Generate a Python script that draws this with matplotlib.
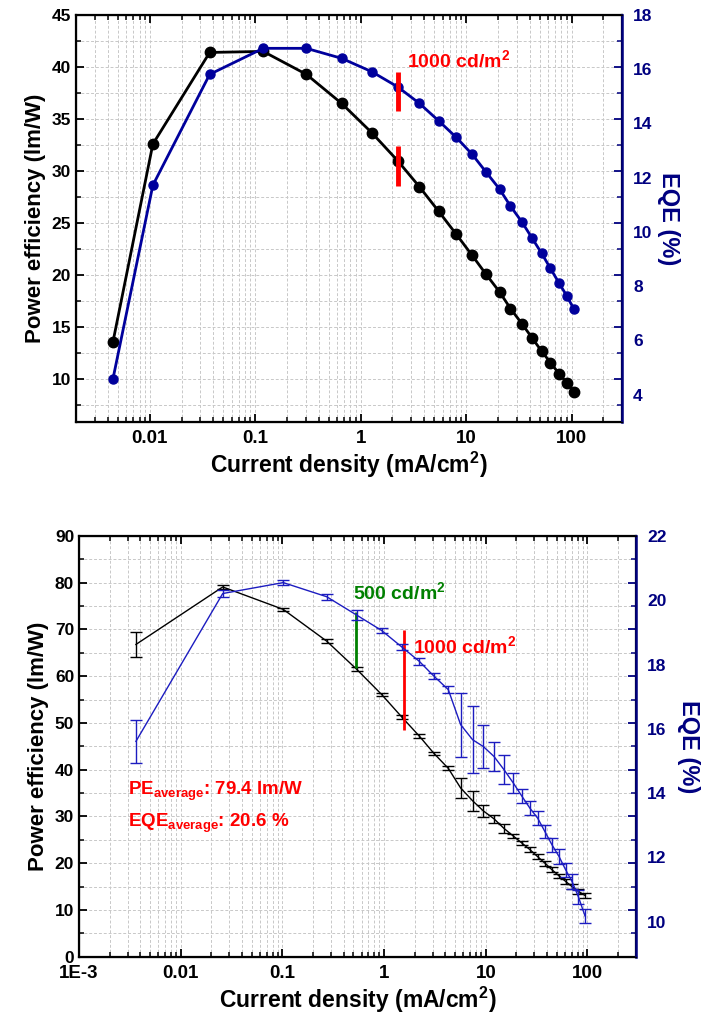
import matplotlib
matplotlib.use("Agg")
import matplotlib.pyplot as plt
from matplotlib.ticker import LogLocator, FixedLocator, MultipleLocator, FuncFormatter, NullFormatter

plt.rcParams['font.family'] = ['Liberation Sans', 'DejaVu Sans']
plt.rcParams['font.weight'] = 'bold'
plt.rcParams['mathtext.fontset'] = 'custom'
plt.rcParams['mathtext.rm'] = 'Liberation Sans:bold'
plt.rcParams['mathtext.bf'] = 'Liberation Sans:bold'

NAVY = '#000080'
BLUE_TOP = '#00009c'
BLUE_BOT = '#1c1cc0'

# ---- top panel data (single device) ----
j_top = [0.00448, 0.0107, 0.037, 0.119, 0.305, 0.66, 1.27, 2.24, 3.6, 5.47, 8.03,
         11.4, 15.4, 20.7, 26.3, 33.7, 42, 51.9, 63, 75.7, 90.2, 105]
pe_top = [13.6, 32.6, 41.4, 41.5, 39.3, 36.5, 33.7, 31.0, 28.5, 26.15, 23.95,
          21.9, 20.1, 18.4, 16.8, 15.35, 14.0, 12.7, 11.6, 10.55, 9.65, 8.8]
eqe_top = [4.58, 11.72, 15.81, 16.77, 16.77, 16.40, 15.91, 15.35, 14.74, 14.10, 13.49,
           12.86, 12.21, 11.58, 10.95, 10.37, 9.78, 9.21, 8.65, 8.12, 7.63, 7.15]
mark_top_j = 2.24
mark_top_pe = (28.6, 32.4)
mark_top_eqe = (14.45, 15.9)

# ---- bottom panel data (averaged, with error bars) ----
j_bot = [0.00363, 0.0259, 0.102, 0.273, 0.537, 0.946, 1.49, 2.22, 3.09, 4.28, 5.66,
         7.43, 9.46, 12.05, 15.1, 18.7, 22.7, 27.2, 32.4, 38.2, 44.8, 52.5, 61.1,
         70.5, 81.3, 94.6]
pe_bot = [66.8, 79.1, 74.3, 67.5, 61.5, 56.1, 51.3, 47.2, 43.5, 40.3, 36.1,
          33.35, 31.2, 29.5, 27.45, 25.8, 24.3, 22.9, 21.4, 20.0, 18.6, 17.3, 16.1,
          15.0, 14.0, 13.1]
pe_err = [2.7, 0.5, 0.4, 0.4, 0.4, 0.4, 0.4, 0.4, 0.4, 0.4, 2.1,
          2.1, 1.35, 0.8, 0.9, 0.5, 0.5, 0.5, 0.5, 0.5, 0.5, 0.5, 0.5,
          0.5, 0.5, 0.5]
eqe_bot = [15.61, 20.21, 20.55, 20.11, 19.54, 19.06, 18.55, 18.10, 17.64, 17.22, 16.13,
           15.66, 15.45, 15.14, 14.73, 14.31, 13.90, 13.53, 13.22, 12.80, 12.39, 12.03, 11.61,
           11.25, 10.78, 10.18]
eqe_err = [0.66, 0.1, 0.07, 0.09, 0.15, 0.09, 0.1, 0.1, 0.1, 0.11, 1.0,
           1.04, 0.68, 0.44, 0.46, 0.32, 0.22, 0.21, 0.21, 0.21, 0.21, 0.22, 0.23,
           0.22, 0.22, 0.21]
mark500_j, mark500_pe = 0.53, (61.7, 73.8)
mark1000_j, mark1000_pe = 1.58, (48.5, 69.8)


def xfmt(v, pos):
    if abs(v - 0.001) < 1e-9:
        return '1E-3'
    return '%g' % v


def style_x(ax):
    ax.set_xscale('log')
    ax.xaxis.set_major_locator(LogLocator(base=10, numticks=20))
    ax.xaxis.set_minor_locator(LogLocator(base=10, subs=range(2, 10), numticks=20))
    ax.xaxis.set_major_formatter(FuncFormatter(xfmt))
    ax.xaxis.set_minor_formatter(NullFormatter())
    ax.tick_params(axis='x', which='both', direction='in', top=True, bottom=True)
    ax.tick_params(axis='x', which='major', length=6, width=1.3, labelsize=13.5, pad=6)
    ax.tick_params(axis='x', which='minor', length=3.5, width=1.1)
    for s in ax.spines.values():
        s.set_linewidth(1.6)
    ax.grid(True, which='both', linestyle=(0, (3, 2)), color='#c8c8c8', linewidth=0.7)
    ax.set_axisbelow(True)
    ax.set_xlabel('Current density (mA/cm$^2$)', fontsize=16.5, fontweight='bold',
                  labelpad=2)


def style_left(ax):
    ax.tick_params(axis='y', which='both', direction='in', left=True, right=True)
    ax.tick_params(axis='y', which='major', length=6, width=1.3, labelsize=12.5)
    ax.tick_params(axis='y', which='minor', length=3.5, width=1.1)
    ax.set_ylabel('Power efficiency (lm/W)', fontsize=16, fontweight='bold', labelpad=4)
    # right-side ticks of the left axis are drawn in navy on the navy spine
    for t in ax.yaxis.get_major_ticks() + ax.yaxis.get_minor_ticks():
        t.tick2line.set_markeredgecolor(NAVY)


def style_right(ax2, ticks, pad):
    ax2.yaxis.set_major_locator(FixedLocator(ticks))
    ax2.tick_params(axis='y', which='both', direction='in', length=0, labelsize=12.5,
                    labelcolor=NAVY, pad=8)
    ax2.spines['right'].set_color(NAVY)
    ax2.spines['right'].set_linewidth(1.8)
    ax2.set_ylabel('EQE (%)', fontsize=17, fontweight='bold', color=NAVY,
                   rotation=270, labelpad=pad)


fig = plt.figure(figsize=(7.04, 10.19), dpi=100)

# ---------------- top panel ----------------
ax1 = fig.add_axes([0.108, 0.5862, 0.7755, 0.3991])
ax1.plot(j_top, pe_top, color='black', lw=2, marker='o', ms=7.5, zorder=3)
ax1.set_xlim(0.002, 300)
ax1.set_ylim(5.93, 45)
ax1.yaxis.set_major_locator(MultipleLocator(5))
ax1.yaxis.set_minor_locator(MultipleLocator(2.5))
style_x(ax1)
ax1.vlines(mark_top_j, *mark_top_pe, color='red', lw=3.5, zorder=5)

ax1r = ax1.twinx()
ax1r.plot(j_top, eqe_top, color=BLUE_TOP, lw=2, marker='o', ms=6.5, zorder=3)
ax1r.vlines(mark_top_j, *mark_top_eqe, color='red', lw=3.5, zorder=5)
ax1r.set_ylim(3, 18)
style_right(ax1r, range(4, 19, 2), 20)
ax1r.text(2.77, 16.04, '1000 cd/m$^2$', color='red', fontsize=14, fontweight='bold',
          va='baseline', ha='left')
style_left(ax1)

# ---------------- bottom panel ----------------
ax2 = fig.add_axes([0.1122, 0.0611, 0.7912, 0.4129])
ax2.errorbar(j_bot, pe_bot, yerr=pe_err, color='black', lw=1, elinewidth=1,
             capsize=4, capthick=1, zorder=3)
ax2.set_xlim(0.001, 300)
ax2.set_ylim(0, 90)
ax2.yaxis.set_major_locator(MultipleLocator(10))
ax2.yaxis.set_minor_locator(MultipleLocator(5))
style_x(ax2)
ax2.vlines(mark500_j, *mark500_pe, color='#008000', lw=2, zorder=5)
ax2.vlines(mark1000_j, *mark1000_pe, color='red', lw=2, zorder=5)
ax2.text(0.494, 76.3, '500 cd/m$^2$', color='#008000', fontsize=14, fontweight='bold',
         va='baseline', ha='left', zorder=6)
ax2.text(1.92, 64.8, '1000 cd/m$^2$', color='red', fontsize=14, fontweight='bold',
         va='baseline', ha='left', zorder=6)
ax2.text(0.00303, 34.7, r'PE$_{\rm average}$: 79.4 lm/W', color='red', fontsize=13.5,
         fontweight='bold', va='baseline', ha='left')
ax2.text(0.00303, 27.9, r'EQE$_{\rm average}$: 20.6 %', color='red', fontsize=13.5,
         fontweight='bold', va='baseline', ha='left')

ax2r = ax2.twinx()
ax2r.errorbar(j_bot, eqe_bot, yerr=eqe_err, color=BLUE_BOT, lw=1, elinewidth=1,
              capsize=4, capthick=1, zorder=3)
ax2r.set_ylim(8.91, 22)
style_right(ax2r, range(10, 23, 2), 24)
style_left(ax2)

fig.savefig('out.png', dpi=100)
